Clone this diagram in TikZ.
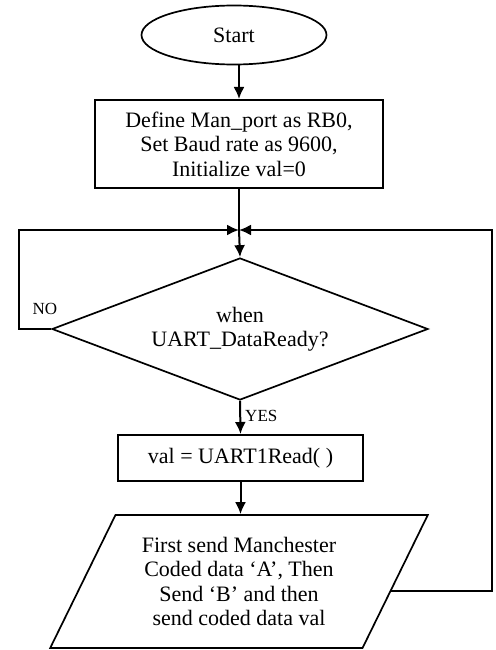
\documentclass[tikz,border=0pt]{standalone}
\usepackage{fontspec}
\setmainfont{Liberation Serif}
\usetikzlibrary{shapes.geometric,arrows.meta,calc}
\begin{document}
\begin{tikzpicture}[x=1pt,y=-1pt,
  every node/.style={font=\fontsize{22}{24.5}\selectfont, inner sep=0pt, align=center},
  flowline/.style={line width=2pt, draw=black},
  arr/.style={flowline, -{Latex[length=12pt,width=11pt]}},
  startbox/.style={ellipse, draw, line width=1.7pt, minimum width=185pt, minimum height=59pt},
  procbox/.style={rectangle, draw, line width=2pt},
  decbox/.style={diamond, draw, line width=1.7pt, aspect=2.65, minimum width=376pt, minimum height=142pt},
  iobox/.style={trapezium, trapezium stretches, trapezium left angle=60.6, trapezium right angle=119.4,
    draw, line width=1.7pt, inner sep=2pt, minimum width=378pt, minimum height=133pt},
  lbl/.style={font=\fontsize{17}{20}\selectfont}]
\useasboundingbox (0,0) rectangle (495,650);

\node[startbox] (start) at (234,35) {Start};
\node[procbox, minimum width=288pt, minimum height=88pt] (init) at (239,144)
  {Define Man\_port as RB0,\\Set Baud rate as 9600,\\Initialize val=0};
\coordinate (join) at (239,230);
\node[decbox] (check) at (240,329) {when\\UART\_DataReady?};
\node[procbox, minimum width=245pt, minimum height=46pt] (read) at (240.5,458) {val = UART1Read( )};
\node[iobox] (send) at (239,581.5)
  {First send Manchester\\Coded data `A', Then\\Send `B' and then\\send coded data val};

\coordinate (nocorner) at (19,230);
\coordinate (backcorner) at (492,230);

% main flow
\draw[arr] (start.south -| init.north) -- (init.north);
\draw[flowline] (init.south) -- (join);
\draw[arr] (join) -- (check.north);
\draw[arr] (check.south) -- (read.north) node[lbl, pos=0.45, right=4pt] {YES};
\draw[arr] (read.south) -- (send.north -| read.south);

% NO branch back to the test
\draw[arr] (check.west) -| (nocorner) -- (join);
\node[lbl] (nolbl) at (45,309) {NO};

% loop back after sending
\coordinate (sendout) at ($(send.top right corner)!0.57!(send.bottom right corner)$);
\draw[arr] (sendout) -| (backcorner) -- (join);
\end{tikzpicture}
\end{document}
